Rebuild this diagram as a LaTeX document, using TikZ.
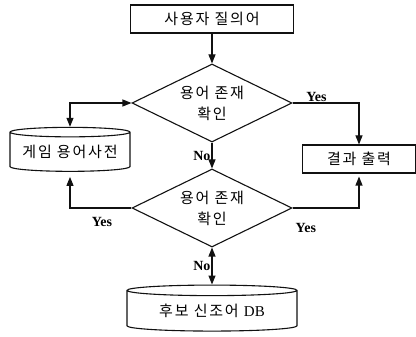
\documentclass[tikz,border=0pt]{standalone}
\usepackage{fontspec}
\setmainfont{Liberation Serif}
\newfontfamily\kr[LetterSpace=12]{Noto Sans CJK KR}
\usetikzlibrary{arrows.meta,positioning,shapes.geometric}
\definecolor{ink}{HTML}{111111}
\tikzset{
  procbox/.style={
    draw=ink, line width=1.1pt, rectangle,
    minimum height=28pt, inner sep=0pt,
    font=\kr\fontsize{15}{18}\selectfont
  },
  decision/.style={
    draw=ink, line width=1.1pt, diamond, aspect=2,
    minimum width=160pt, minimum height=78pt, inner sep=0pt,
    align=center, font=\kr\fontsize{15}{21}\selectfont
  },
  storecyl/.style={
    draw=ink, line width=1.1pt, cylinder, shape border rotate=90,
    aspect=0.1, inner sep=0pt,
    font=\kr\fontsize{15}{18}\selectfont
  },
  flow/.style={draw=ink, line width=1.1pt, -{Triangle[length=9pt,width=7pt]}},
  twoway/.style={draw=ink, line width=1.1pt, {Triangle[length=9pt,width=7pt]}-{Triangle[length=9pt,width=7pt]}},
  answer/.style={font=\bfseries\fontsize{14}{16}\selectfont, inner sep=1pt}
}

\begin{document}
\begin{tikzpicture}[x=1pt,y=1pt]
  \useasboundingbox (0,0) rectangle (416,337);

  % boxes
  \node[procbox, minimum width=163pt] (query) at (212,318) {사용자 질의어};
  \node[decision] (check1) at (212,234) {용어 존재\\확인};
  \node[decision] (check2) at (212,129) {용어 존재\\확인};
  \node[storecyl, minimum width=120pt, minimum height=44pt] (gamedict) at (70,185) {게임 용어사전};
  \node[procbox, minimum width=113pt] (result) at (359,178) {결과 출력};
  \node[storecyl, minimum width=170pt, minimum height=46pt] (newdb) at (212,26) {후보 신조어 {\rmfamily DB}};

  % connectors
  \draw[flow] (query) -- (check1);
  \draw[twoway] (gamedict.north) |- (check1.west);
  \draw[flow] (check1.east) -| node[answer, above, pos=0.18] {Yes} (result.north);
  \draw[flow] (check1.south) -- node[answer, left] {No} (check2.north);
  \draw[flow, shorten >=5pt] (check2.west) -| node[answer, below, pos=0.24, yshift=-8pt] {Yes} (gamedict.south);
  \draw[flow, shorten >=3pt] (check2.east) -| node[answer, below, pos=0.1, yshift=-14pt] {Yes} (result.south);
  \draw[twoway] (check2.south) -- node[answer, left] {No} (newdb.north);
\end{tikzpicture}
\end{document}
